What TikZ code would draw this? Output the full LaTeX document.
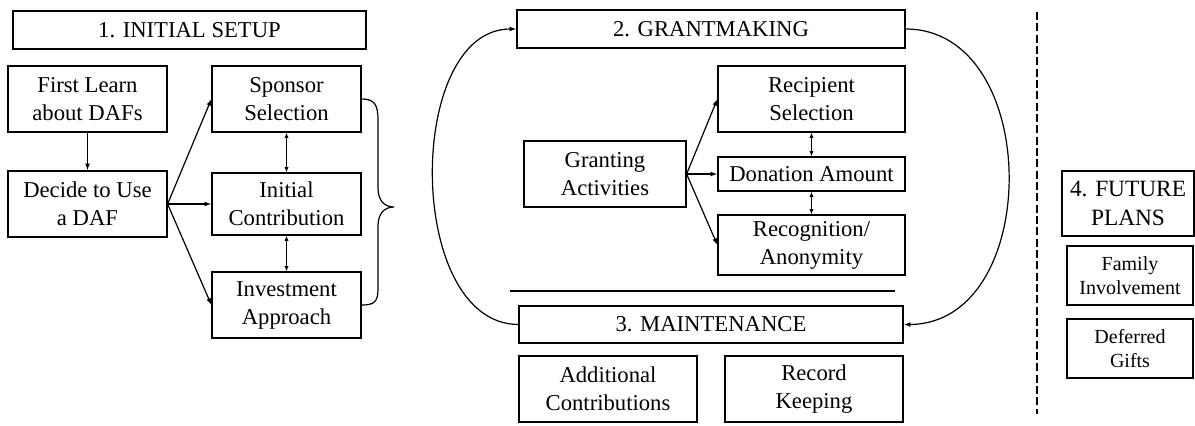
\documentclass[tikz,border=0pt]{standalone}
\usepackage{fontspec}
\setmainfont{Liberation Serif}
\usetikzlibrary{arrows.meta}
\begin{document}
\begin{tikzpicture}[x=0.75pt,y=-0.75pt,
  box/.style n args={2}{draw, line width=0.9pt, minimum width=#1*0.75pt, minimum height=#2*0.75pt, inner sep=0pt, align=center, font=\fontsize{17}{21}\selectfont},
  smallbox/.style n args={2}{box={#1}{#2}, font=\fontsize{15}{18.5}\selectfont},
  conn/.style={line width=0.9pt, -{Latex[length=5pt,width=3.6pt]}},
  dconn/.style={line width=0.9pt, {Latex[length=4pt,width=3.2pt]}-{Latex[length=4pt,width=3.2pt]}}
]
\useasboundingbox (0,0) rectangle (1195,425);
% Section 1
\node[box={353}{38}] (setup) at (189.5,30) {1. INITIAL SETUP};
\node[box={159}{66}] (learn) at (87.5,99) {First Learn\\about DAFs};
\node[box={159}{66}] (decide) at (87.5,204) {Decide to Use\\a DAF};
\node[box={149}{66}] (sponsor) at (286.5,99) {Sponsor\\Selection};
\node[box={149}{62}] (initial) at (286.5,204) {Initial\\Contribution};
\node[box={149}{66}] (invest) at (286.5,305) {Investment\\Approach};
\draw[conn] (learn) -- (decide);
\draw[conn] (decide.east) -- (sponsor.west);
\draw[conn] (decide.east) -- (initial.west);
\draw[conn] (decide.east) -- (invest.west);
\draw[dconn] (sponsor) -- (initial);
\draw[dconn] (initial) -- (invest);
\coordinate (btip) at (394,207);
\draw[line width=0.9pt] (sponsor.east) .. controls (374,99) and (378,104) .. (378,120) -- (378,188)
  .. controls (378,200) and (384,207) .. (btip)
  .. controls (384,207) and (378,214) .. (378,226) -- (378,289)
  .. controls (378,302) and (374,305) .. (invest.east);
% Section 2
\node[box={388}{38}] (grant) at (711,29) {2. GRANTMAKING};
\node[box={162}{66}] (granting) at (605,174) {Granting\\Activities};
\node[box={187}{66}] (recip) at (811.5,99) {Recipient\\Selection};
\node[box={187}{34}] (donation) at (811.5,174) {Donation Amount};
\node[box={187}{60}] (recog) at (811.5,245) {Recognition/\\Anonymity};
\draw[conn] (granting.east) -- (recip.west);
\draw[conn] (granting.east) -- (donation.west);
\draw[conn] (granting.east) -- (recog.west);
\draw[dconn] (recip) -- (donation);
\draw[dconn] (donation) -- (recog);
\coordinate (sepL) at (510,291);
\coordinate (sepR) at (895,291);
\draw[line width=0.9pt] (sepL) -- (sepR);
% Section 3
\node[box={384}{37}] (maint) at (711,324.5) {3. MAINTENANCE};
\node[box={178}{66}] (addl) at (608,389) {Additional\\Contributions};
\node[box={178}{66}] (record) at (814,389) {Record\\Keeping};
\draw[conn] (maint.west) .. controls (405,324) and (405,29) .. (grant.west);
\draw[conn] (grant.east) .. controls (1043,29) and (1043,324) .. (maint.east);
% Divider
\coordinate (dvT) at (1037,12);
\coordinate (dvB) at (1037,414);
\draw[line width=0.8pt, dash pattern=on 6pt off 2.5pt] (dvT) -- (dvB);
% Section 4
\node[box={132}{65}, font=\fontsize{17.5}{21.5}\selectfont] (future) at (1128,203.5) {4. FUTURE\\PLANS};
\node[smallbox={126}{59}] (family) at (1130,275.5) {Family\\Involvement};
\node[smallbox={126}{59}] (deferred) at (1130,348.5) {Deferred\\Gifts};
\end{tikzpicture}
\end{document}
